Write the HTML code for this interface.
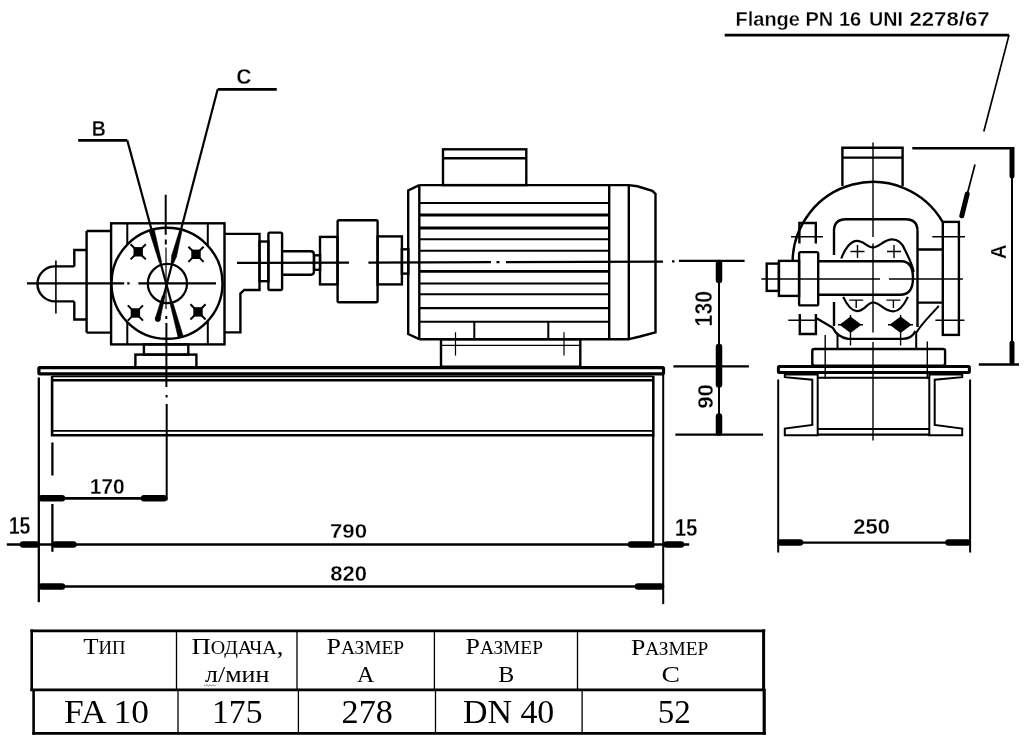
<!DOCTYPE html>
<html><head><meta charset="utf-8">
<style>
html,body{margin:0;padding:0;background:#fff;width:1025px;height:742px;overflow:hidden}
svg{display:block;will-change:transform}
.s{font-family:"Liberation Sans",sans-serif;font-weight:bold;fill:#000;stroke:#fff;stroke-width:0.3px}
.r{font-family:"Liberation Serif",serif;fill:#000}
</style></head><body>
<svg width="1025" height="742" viewBox="0 0 1025 742">
<g fill="none" stroke="#000" stroke-width="2.4" stroke-linejoin="miter" stroke-linecap="butt">

<!-- ===== PUMP side view ===== -->
<!-- relief valve -->
<path d="M74.3 266.4 H55 A17.5 17.5 0 0 0 55 301.4 H74.3 M74.3 266.4 V250 H86.6 M74.3 301.4 V319.5 H86.6 M86.6 231 V332.6 M86.6 231 H111 M86.6 332.6 H111"/>
<!-- pump body -->
<rect x="111.1" y="223.3" width="113.4" height="121.1"/>
<path d="M127.3 223.3 V344.4 M207.8 223.3 V344.4" stroke-width="2"/>
<circle cx="167" cy="283.3" r="55.5" fill="#fff"/>
<!-- right housing -->
<path d="M224.5 233.9 H259.5 V290 H244.2 L240.4 293.6 V332.4 H224.5"/>
<rect x="259.5" y="241.5" width="8.9" height="39.7"/>
<rect x="268.4" y="232.6" width="13.7" height="57.4" rx="1.5"/>
<path d="M282.1 251.2 H311 Q314 251.2 314 255 V271 Q314 274.7 311 274.7 H282.1"/>
<rect x="314" y="255.3" width="6.1" height="14.5"/>
<!-- coupling -->
<rect x="320" y="236.9" width="17.5" height="47.5"/>
<rect x="337.6" y="220.2" width="40" height="82" rx="1.5"/>
<rect x="377.6" y="236.4" width="24.3" height="48"/>
<rect x="401.9" y="249.3" width="6.4" height="24.3"/>
<!-- pump feet -->
<rect x="143.9" y="344.4" width="44.4" height="10.2"/>
<rect x="135.4" y="354.6" width="61" height="12.9"/>

<!-- ===== MOTOR ===== -->
<rect x="443" y="149.3" width="83.3" height="35.8"/>
<path d="M443 158.2 H526.3"/>
<path d="M419.3 185.1 H609 M419.3 339.2 H629.4"/>
<path d="M419.3 185.1 V339.2"/>
<path d="M419.3 185.1 L408.2 190.5 V334 L419.3 339.2"/>
<path d="M609.2 185.1 V339.2 M628.8 185.1 V339.2"/>
<path d="M609 185.1 H628.8 L637.4 186.3 L652.3 190.8 L655.5 193.8 V332.3 L640 336.5 L629 339.2"/>
<path d="M420 215 H609 M420 228 H609 M420 271.3 H609" stroke-width="2.8"/><path d="M420 239.3 H609 M420 250.7 H609 M420 283.5 H609 M420 294.3 H609 M420 308.1 H609 M420 321.8 H609" stroke-width="2.1"/>
<path d="M420 203 H609" stroke-width="1.9"/>
<path d="M474.3 321.8 V339.2 M548.3 321.8 V339.2" stroke-width="2"/>
<rect x="441" y="339.2" width="139.3" height="27.5"/>
<path d="M441 345.4 H580.3" stroke-width="1.2"/>
<path d="M455.5 332.3 V355.6 M564 332.3 V355.6" stroke-width="1.2"/>

<!-- ===== BASE side ===== -->
<rect x="38.9" y="367.6" width="624.6" height="6.2" rx="1" stroke-width="3.2"/>
<path d="M52.1 376.4 H653.3 M52.1 430.9 H653.3" stroke-width="1.8"/><path d="M52.1 380.2 H653.3 M52.1 435.2 H653.3 M52.1 376 V436.5 M653.3 376 V436.5" stroke-width="2.6"/>
</g>

<!-- centerlines & thin lines -->
<g fill="none" stroke="#000" stroke-width="1.3">
<path d="M55.9 260.5 V313.4" stroke-width="1.6"/>
<path d="M27 283.3 H124.2 M127.2 283.3 H129.6 M138.4 283.3 H216" stroke-width="2.3"/>
<path d="M165.7 194.8 V234.7 M165.8 239.5 V244.4 M166.3 316 V319 M166.4 323 V387 M166.6 395 V397.5 M166.7 404 V500.2" stroke-width="2"/><path d="M166 247.6 V309" stroke-width="1.2"/>
<path d="M237 262.9 L349 262.6 M368.4 262.6 L491 262.2 M496.5 262.2 H499.5 M506 262.2 L663 261.6 M672 261.3 H674.5 M679 260.9 H744.6" stroke-width="2.2"/>
</g>

<!-- small circle and stars on pump -->
<g fill="none" stroke="#000" stroke-width="2.2">
<circle cx="167.4" cy="283.5" r="19.6"/>
</g>
<g fill="#000">
<rect x="133.5" y="247.1" width="9.4" height="9.4"/>
<rect x="191.3" y="249.6" width="9.4" height="9.4"/>
<rect x="130.7" y="308.3" width="9.4" height="9.4"/>
<rect x="193.3" y="307.2" width="9.4" height="9.4"/>
</g>
<path d="M130.6 244.2 L145.8 259.4 M145.8 244.2 L130.6 259.4 M188.4 246.7 L203.6 261.9 M203.6 246.7 L188.4 261.9 M127.8 305.4 L143.0 320.6 M143.0 305.4 L127.8 320.6 M190.4 304.3 L205.6 319.5 M205.6 304.3 L190.4 319.5" stroke="#000" stroke-width="2" fill="none"/>

<!-- B / C leaders -->
<g fill="none" stroke="#000" stroke-width="2.2">
<path d="M78.2 140.4 H127.3" stroke-width="2.7"/><path d="M127.3 140.4 L180.8 337.4"/>
<path d="M276.8 89.3 H217.7" stroke-width="2.8"/><path d="M217.7 89.3 L157.6 319.2"/>
</g>
<g fill="#000" stroke="#000" stroke-width="0.6" stroke-linejoin="round">
<path d="M149.3 231.2 L159.2 262.3 L161.5 261.7 L154.3 229.8Z"/>
<path d="M170.3 304.4 L178.1 337.2 L183.0 335.8 L173.2 303.6Z"/>
<path d="M179.5 230.7 L171.7 255.4 L176.5 256.6 L181.8 231.3Z"/>
<path d="M171.7 255.4 L171.1 262.7 L173.5 263.3 L176.5 256.6Z"/>
<path d="M162.4 295.7 L155.3 318.4 L160.0 319.6 L164.9 296.3Z"/>
<circle cx="157.8" cy="319" r="2.6"/>
</g>


<!-- ===== END VIEW ===== -->
<g fill="none" stroke="#000" stroke-width="2.4">
<!-- top flange -->
<path d="M842.4 186 V147.8 H902.6 V186 M842.4 157.6 H902.6"/>
<!-- big arc -->
<path d="M792.6 261 A80.5 80.5 0 0 1 942.6 221.8"/>
<!-- housing -->
<path d="M834 255 V231 Q834 219.3 846 219.3 H905.5 Q917.5 219.3 917.5 231 V327"/>
<path d="M834 302 V326" />
<!-- lower casing outline -->
<path d="M816.6 318.2 L832.8 327.8 Q837 337 848 338.9 H903 Q912 338.5 915.5 331"/>
<path d="M938.8 305.8 C930 316 921 324 916.2 333 V349" stroke-width="2"/>
<path d="M837.5 333 V349" stroke-width="2"/>
<!-- right neck & flange -->
<path d="M917.5 249.5 H942.8 M917.5 302.6 H942.8"/>
<rect x="942.8" y="221.9" width="16.1" height="113"/>
<!-- left flange bolts -->
<path d="M799.4 243.4 V223 H815.8 V243.4"/>
<path d="M799.8 314 V334 H815.9 V314"/>
<!-- valve -->
<rect x="766.7" y="263.6" width="12.2" height="27.3"/>
<rect x="778.9" y="260.9" width="20.2" height="35"/>
<rect x="799.1" y="252.1" width="19.1" height="53.3" rx="1.5"/>
<path d="M818.2 261.2 H901.4 C911 261.2 913 269 913 278 C913 287 910 294.8 900 294.8 H818.2"/>
<!-- gears -->
<path d="M841.3 258.5 C845 248 851 240.8 857 240.8 C864 240.8 867 247.4 873 247.4 C879 247.4 884 239.4 892 239.4 C900 239.4 903 245 905 250 C909 258 913 266 913.6 272" stroke-width="2.2"/>
<path d="M843.2 296.9 C847 305 851 311.1 857 311.1 C865 311.1 867 302.5 873.1 302.5 C880 302.5 884 311.4 893.4 311.4 C900 311.4 905 303 907.9 296.9" stroke-width="2.2"/>
<!-- foot -->
<rect x="812.3" y="349" width="132.8" height="16.6" rx="2"/>
<!-- base plate -->
<rect x="778.4" y="366.6" width="191" height="5.8" rx="1" stroke-width="3"/>
<!-- channels -->
<path d="M784.8 374.4 H817.7 V435.3 H784.8 V428.6 L812.3 424.9 V379.7 L784.8 377.2 Z" stroke-width="2"/>
<path d="M962.2 374.4 H929.3 V435.3 H962.2 V428.6 L934.7 424.9 V379.7 L962.2 377.2 Z" stroke-width="2"/>
<path d="M817.7 377.8 H929.3 M817.7 429 H929.3" stroke-width="2"/><path d="M817.7 434.6 H929.3" stroke-width="2.2"/>
</g>
<!-- end view thin lines -->
<g fill="none" stroke="#000" stroke-width="1.4">
<path d="M873 142.4 V237 M873 243.4 V332.5 M873 342 V440.6"/>
<path d="M761.3 279 H880 M889 279 H962.9"/>
<path d="M791 236.7 H822.9 M932.3 236.7 H965 M788.3 320.2 H816.6 M935.4 320.3 H964.5"/>
<path d="M850.5 315 V345.4 M900.6 315 V345.4 M838 324.7 H863 M888 324.7 H913"/>
<path d="M825.2 335 V379 M927.3 341.4 V379"/>
<path d="M850.5 251.5 H864.5 M857.5 245 V258 M887 251.5 H901 M894 245 V258"/>
<path d="M849.2 300.1 H863.2 M856.2 300.1 V308 M886.4 300.1 H900.4 M893.4 300.1 V308"/>
</g>
<g fill="#000">
<path d="M839.5 324.7 L850.5 316.5 L861.5 324.7 L850.5 332.9Z"/>
<path d="M889.6 324.7 L900.6 316.5 L911.6 324.7 L900.6 332.9Z"/>
</g>


<!-- ===== DIMENSIONS ===== -->
<g fill="none" stroke="#000" stroke-width="2.3">
<path d="M38.8 377.5 V602.2"/>
<path d="M52.4 442.4 V475.4 M52.4 504 V551.7"/>
<path d="M653.2 435 V547.6"/>
<path d="M663.2 374.5 V604.1" stroke-width="2"/>
<path d="M38.8 498.3 H166.8" stroke-width="2.8"/>
<path d="M6.8 544.4 H689.2" stroke-width="2.5"/>
<path d="M38.8 586.4 H663.8" stroke-width="2.5"/>
<path d="M673.4 366.4 H748.9 M675.4 434.6 H763" stroke-width="2.2"/>
<path d="M719 260.6 V434.6" stroke-width="2"/>
<path d="M778.2 379.5 V552.4 M970.1 379.5 V552.4" stroke-width="2"/>
<path d="M778.2 542.6 H970.1" stroke-width="2.4"/>
<path d="M912.3 148.2 H1014.5" stroke-width="2.5"/>
<path d="M978.8 364.4 H1019" stroke-width="2.5"/>
<path d="M1012 148.2 V364.4" stroke-width="2"/>
<path d="M724.7 35.1 H1009" stroke-width="2.6"/><path d="M1009 35.1 L983.8 131.5" stroke-width="1.7"/>
<path d="M975 164.5 L961 217.8" stroke-width="1.7"/>
</g>
<g fill="none" stroke="#000" stroke-linecap="round">
<path d="M41.5 498.3 L62 498.3" stroke-width="6.5"/>
<path d="M144 498.3 L164 498.3" stroke-width="6.5"/>
<path d="M23 544.4 L36.5 544.4" stroke-width="6.5"/>
<path d="M55 544.4 L73.5 544.4" stroke-width="6.5"/>
<path d="M631 544.4 L650.5 544.4" stroke-width="6.5"/>
<path d="M666.5 544.4 L681 544.4" stroke-width="6.5"/>
<path d="M41.5 586.4 L62 586.4" stroke-width="6.5"/>
<path d="M638 586.4 L661 586.4" stroke-width="6.5"/>
<path d="M719 263 L719 280" stroke-width="6.5"/>
<path d="M719 347 L719 364.5" stroke-width="6.5"/>
<path d="M719 368.5 L719 384.5" stroke-width="6.5"/>
<path d="M719 416.5 L719 432.5" stroke-width="6.5"/>
<path d="M780.5 542.6 L800 542.6" stroke-width="6.5"/>
<path d="M948.5 542.6 L967.5 542.6" stroke-width="6.5"/>
<path d="M1012 150.5 L1012 176" stroke-width="5"/>
<path d="M1012 343 L1012 362" stroke-width="5"/>
<path d="M967.2 194 L961.8 215.8" stroke-width="5"/>
</g>
<!-- text labels -->
<text class="s" font-size="20.87" transform="translate(735.50 25.50) scale(0.959 1)">Flange PN 16</text>
<text class="s" font-size="20.43" transform="translate(869.12 25.50) scale(0.963 1)">UNI</text>
<text class="s" font-size="20.43" transform="translate(909.42 25.50) scale(1.087 1)">2278/67</text>
<text class="s" font-size="22.75" transform="translate(91.63 135.80) scale(0.857 1)">B</text>
<text class="s" font-size="21.29" transform="translate(236.26 84.00) scale(0.990 1)">C</text>
<text class="s" font-size="22.57" transform="translate(89.63 493.80) scale(0.934 1)">170</text>
<text class="s" font-size="23.33" transform="translate(8.63 533.90) scale(0.840 1)">15</text>
<text class="s" font-size="23.04" transform="translate(674.66 535.90) scale(0.893 1)">15</text>
<text class="s" font-size="20.86" transform="translate(330.00 537.50) scale(1.065 1)">790</text>
<text class="s" font-size="22.14" transform="translate(330.34 580.90) scale(0.994 1)">820</text>
<text class="s" font-size="21.57" transform="translate(853.23 533.90) scale(1.020 1)">250</text>
<text class="s" font-size="23.29" transform="translate(712.10 326.38) rotate(-90) scale(0.908 1)">130</text>
<text class="s" font-size="22.86" transform="translate(712.90 408.78) rotate(-90) scale(0.976 1)">90</text>
<text class="s" font-size="21.59" transform="translate(1005.90 259.31) rotate(-90) scale(0.954 1)">A</text>




<!-- ===== TABLE ===== -->
<g fill="none" stroke="#000">
<path d="M30.4 630.8 H765.2" stroke-width="2.8"/>
<path d="M31.7 629.4 V691" stroke-width="2.6"/>
<path d="M30.4 689.9 H765.2" stroke-width="2.6"/>
<path d="M763.6 629.4 V691" stroke-width="3"/>
<path d="M176.5 632 V689 M297 632 V689 M434.4 632 V689 M577.5 632 V689" stroke-width="1.3"/>
<path d="M33.6 689 V734.7" stroke-width="2.6"/>
<path d="M764.2 689 V734.7" stroke-width="3.2"/>
<path d="M32.3 733.3 H765.8" stroke-width="2.8"/>
<path d="M178 691 V732 M298.4 691 V732 M435.5 691 V732 M582.1 691 V732" stroke-width="1.3"/>
<path d="M204 684.6 l1.5 1.6 l1.5 -1.6 l1.5 1.6 l1.5 -1.6 l1.5 1.6 l1.5 -1.6 l1.5 1.6 l1.5 -1.6" stroke="#666" stroke-width="0.8"/>
</g>
<g class="r">
<text font-size="24" transform="translate(83.19 654.00) scale(1.040 1)">Т<tspan font-size="18.0">ИП</tspan></text>
<text font-size="24" transform="translate(191.48 654.00) scale(1.112 1)">П<tspan font-size="18.0">ОДАЧА</tspan>,</text>
<text font-size="24" transform="translate(205.00 681.50) scale(1.080 1)">л/мин</text>
<text font-size="24" transform="translate(326.51 653.80) scale(1.080 1)">Р<tspan font-size="18.0">АЗМЕР</tspan></text>
<text font-size="24" transform="translate(357.00 681.90) scale(1.000 1)">А</text>
<text font-size="24" transform="translate(465.52 654.00) scale(1.077 1)">Р<tspan font-size="18.0">АЗМЕР</tspan></text>
<text font-size="24" transform="translate(498.20 682.00) scale(1.000 1)">В</text>
<text font-size="24" transform="translate(630.92 654.70) scale(1.076 1)">Р<tspan font-size="18.0">АЗМЕР</tspan></text>
<text font-size="24" transform="translate(661.43 682.00) scale(1.152 1)">С</text>
<text font-size="34.5" transform="translate(63.96 722.80) scale(1.027 1)">FA 10</text>
<text font-size="34.5" transform="translate(212.03 723.20) scale(0.975 1)">175</text>
<text font-size="34.5" transform="translate(341.59 722.80) scale(0.990 1)">278</text>
<text font-size="34.5" transform="translate(463.00 723.00) scale(0.983 1)">DN 40</text>
<text font-size="34.5" transform="translate(657.63 723.00) scale(0.957 1)">52</text>
</g>
</svg>
</body></html>
